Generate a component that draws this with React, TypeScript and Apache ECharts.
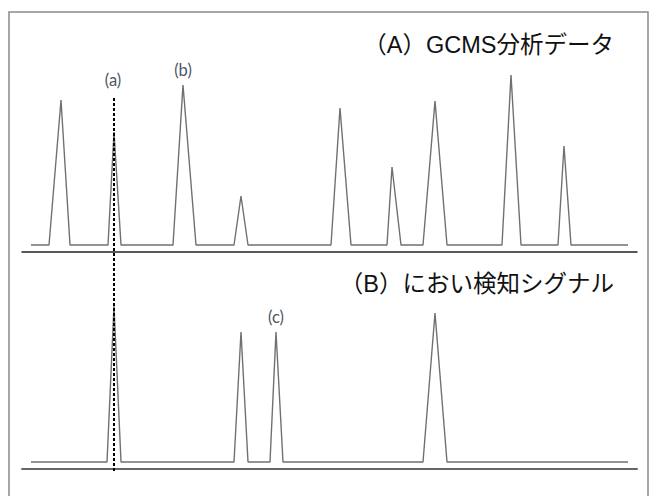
import React, { useEffect, useRef } from "react";
import * as echarts from "echarts";

// (A) GCMS analysis data: chromatogram vertices (retention time, intensity)
const aTimes = [0.9, 2.7, 3.9, 4.8, 8.6, 9.2, 9.9, 15.1, 16.1, 17.4, 21.2, 21.9, 22.6, 30.9, 31.8, 32.9, 36.5, 37.0, 37.9, 40.1, 41.3, 42.5, 48.0, 48.9, 49.9, 53.6, 54.2, 54.9, 60.6];
const aValues = [3.5, 3.5, 76, 3.5, 3.5, 60, 3.5, 3.5, 83.5, 3.5, 3.5, 28, 3.5, 3.5, 72, 3.5, 3.5, 42.5, 3.5, 3.5, 75.5, 3.5, 3.5, 88.5, 3.5, 3.5, 53, 3.5, 3.5];

// (B) odour detection signal
const bTimes = [0.9, 8.5, 9.2, 9.9, 21.2, 21.9, 22.6, 24.8, 25.4, 26.1, 40.1, 41.3, 42.5, 60.6];
const bValues = [3.5, 3.5, 81.5, 3.5, 3.5, 68.5, 3.5, 3.5, 68.5, 3.5, 3.5, 78, 3.5, 3.5];

const titleA = "（A）GCMS分析データ";
const titleB = "（B）におい検知シグナル";

// annotations: [label, time, value, panel]
const annLabels = ["(a)", "(b)", "(c)"];
const annTimes = [9.1, 16.1, 25.4];
const annValues = [86, 91, 76];
const annPanels = [0, 0, 1];

const markerTime = 9.2;
const markerTop = 77;
const markerBottom = -1.5;

export default function App() {
  const ref = useRef<HTMLDivElement>(null);
  useEffect(() => {
    if (!ref.current) return;
    const chart = echarts.init(ref.current, null, { renderer: "svg" });
    const dataA = aTimes.map((t, i) => [t, aValues[i]]);
    const dataB = bTimes.map((t, i) => [t, bValues[i]]);
    const xAx = (gi: number) => ({
      type: "value",
      gridIndex: gi,
      min: 0,
      max: 61.5,
      axisLine: { show: true, onZero: false, lineStyle: { color: gi === 0 ? "#222" : "#666", width: gi === 0 ? 1.5 : 2 } },
      axisTick: { show: false },
      axisLabel: { show: false },
      splitLine: { show: false },
    });
    const yAx = (gi: number) => ({
      type: "value",
      gridIndex: gi,
      min: 0,
      max: 100,
      show: false,
      splitLine: { show: false },
    });
    chart.setOption({
      animation: false,
      grid: [
        { left: 22, right: 19, top: 52, height: 200 },
        { left: 22, right: 19, top: 269, height: 200 },
      ],
      xAxis: [xAx(0), xAx(1)],
      yAxis: [yAx(0), yAx(1)],
      series: [
        {
          type: "line",
          xAxisIndex: 0,
          yAxisIndex: 0,
          data: dataA,
          symbol: "none",
          lineStyle: { color: "#707070", width: 1.4 },
          z: 2,
        },
        {
          type: "line",
          xAxisIndex: 1,
          yAxisIndex: 1,
          data: dataB,
          symbol: "none",
          lineStyle: { color: "#707070", width: 1.4 },
          z: 2,
        },
      ],
    });
    const mx = chart.convertToPixel({ xAxisIndex: 0 }, markerTime) as number;
    const myTop = chart.convertToPixel({ yAxisIndex: 0 }, markerTop) as number;
    const myBot = chart.convertToPixel({ yAxisIndex: 1 }, markerBottom) as number;
    const annTexts = annLabels.map((lab, i) => ({
      type: "text",
      x: chart.convertToPixel({ xAxisIndex: annPanels[i] }, annTimes[i]) as number,
      y: chart.convertToPixel({ yAxisIndex: annPanels[i] }, annValues[i]) as number,
      style: {
        text: lab,
        fill: "#4d5663",
        fontSize: 16.5,
        fontFamily: "Lato, 'Open Sans', sans-serif",
        align: "center",
        verticalAlign: "middle",
      },
      z: 10,
    }));
    const titleStyle = {
      fill: "#111",
      fontSize: 23.5,
      fontFamily: "'Liberation Sans', 'Noto Sans CJK JP', sans-serif",
      align: "right",
      verticalAlign: "middle",
    };
    chart.setOption({
      graphic: [
        {
          type: "rect",
          shape: { x: 9, y: 12, width: 639, height: 500 },
          style: { fill: "none", stroke: "#8a8a8a", lineWidth: 1.5 },
          silent: true,
          z: 0,
        },
        {
          type: "line",
          shape: { x1: mx, y1: myTop, x2: mx, y2: myBot },
          style: { stroke: "#000", lineWidth: 2, lineDash: [3, 2] },
          z: 10,
        },
        { type: "text", x: 614, y: 45, style: { ...titleStyle, text: titleA }, z: 10 },
        { type: "text", x: 614, y: 284, style: { ...titleStyle, text: titleB }, z: 10 },
        ...annTexts,
      ],
    });
    return () => chart.dispose();
  }, []);
  return (
    <div
      ref={ref}
      style={{ position: "fixed", left: 0, top: 0, width: 656, height: 496, background: "#fff" }}
    />
  );
}
